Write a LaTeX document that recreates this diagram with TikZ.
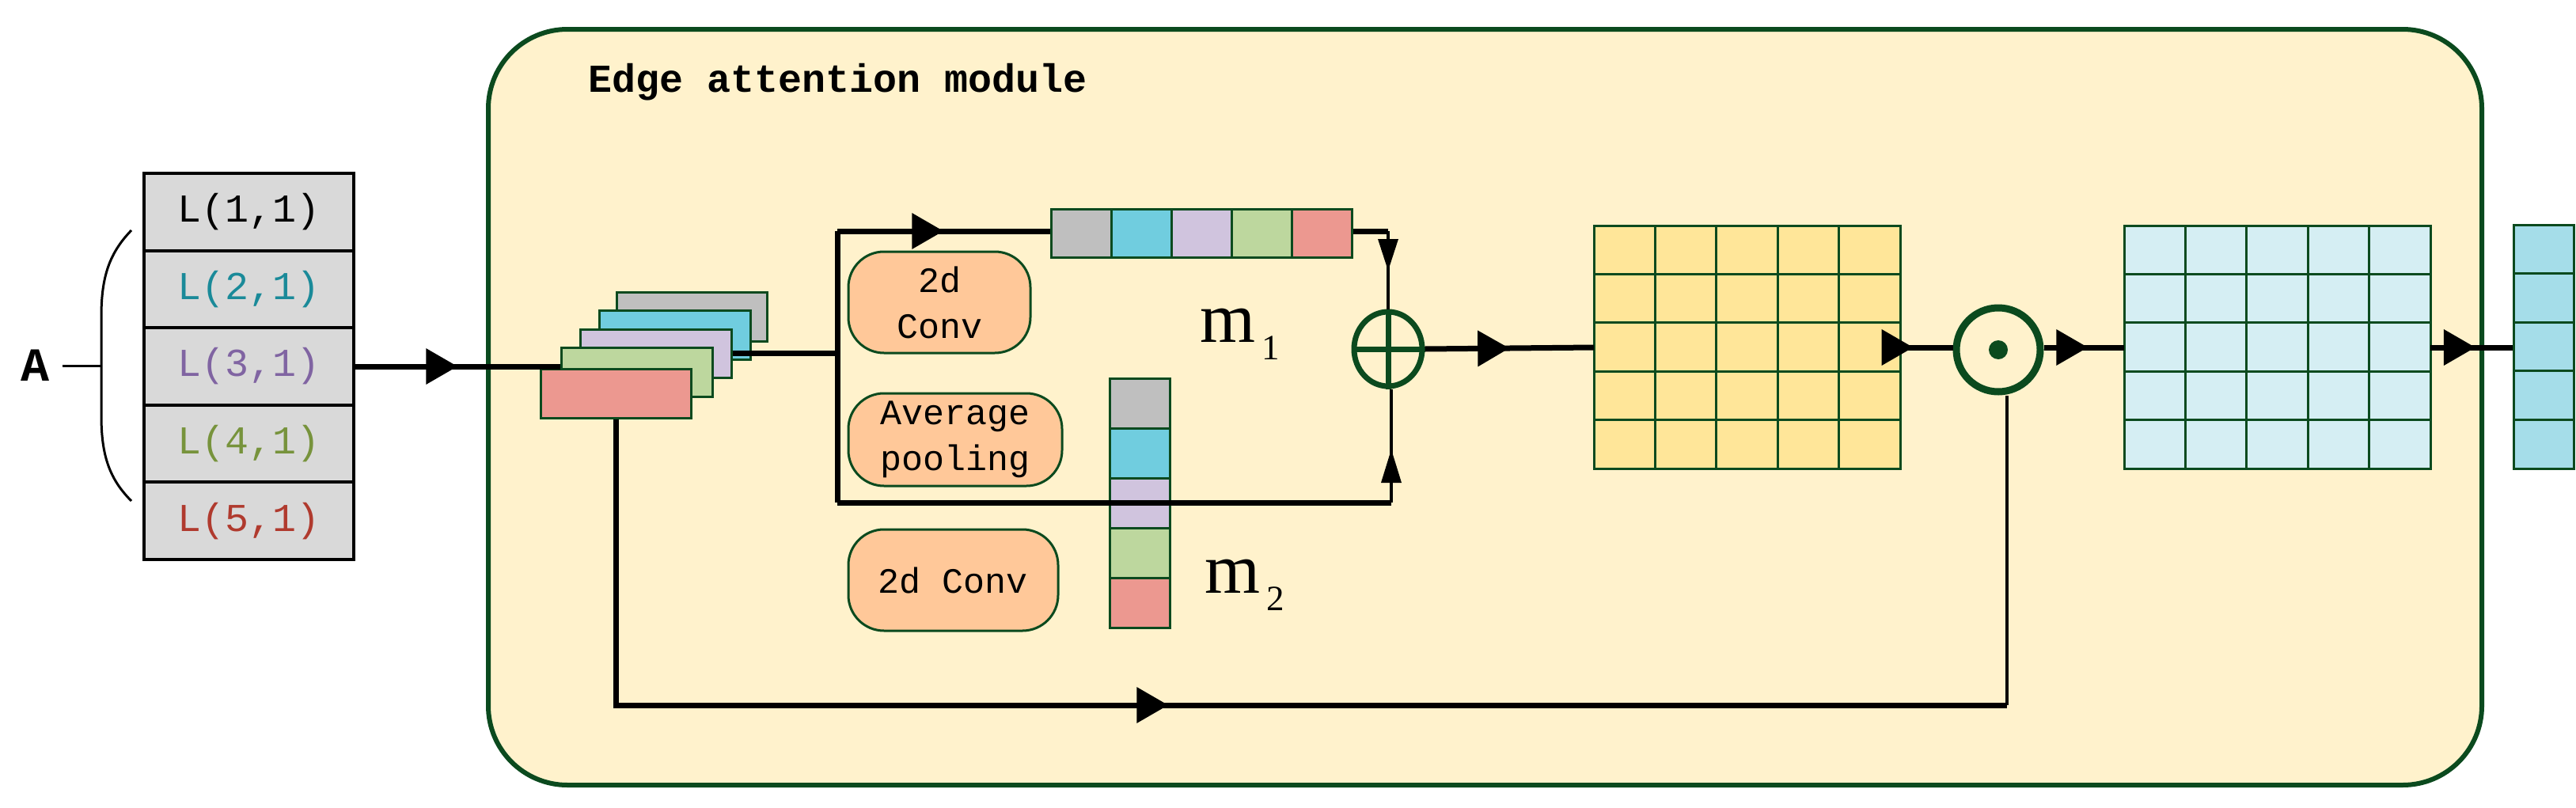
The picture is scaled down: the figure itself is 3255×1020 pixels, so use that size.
\documentclass[tikz,border=0pt]{standalone}
\usepackage{fontspec}
\setmainfont{Liberation Serif}
\newfontfamily\monof{Liberation Mono}
\usetikzlibrary{arrows.meta,decorations.markings,shapes.geometric}
\definecolor{dg}{HTML}{0B4A1E}
\definecolor{bgy}{HTML}{FFF2CC}
\definecolor{cgray}{HTML}{BFBFBF}
\definecolor{ccyan}{HTML}{70CDDF}
\definecolor{clil}{HTML}{D0C4DE}
\definecolor{cgrn}{HTML}{BDD79E}
\definecolor{cred}{HTML}{EC9890}
\definecolor{cora}{HTML}{FFC899}
\definecolor{yel}{HTML}{FFE699}
\definecolor{lblue}{HTML}{D5EEF3}
\definecolor{oblue}{HTML}{A5DDE9}
\definecolor{t2}{HTML}{1A8A99}
\definecolor{t3}{HTML}{8064A2}
\definecolor{t4}{HTML}{77933C}
\definecolor{t5}{HTML}{B03A2E}
\begin{document}
\begin{tikzpicture}[x=1pt,y=-1pt,
  lcell/.style={draw=black,line width=4,fill=gray!30,minimum width=265,minimum height=97.6,inner sep=0,font=\fontsize{50}{50}\monof},
  cell/.style={draw=dg,line width=3,inner sep=0},
  rbox/.style={draw=dg,line width=3,fill=cora,rounded corners=45,inner sep=0,align=center,font=\fontsize{45}{58}\monof},
  conn/.style={line width=7},
  thin/.style={line width=4},
  mk/.style={postaction={decorate},decoration={markings,mark=at position #1 with {\arrow{Triangle[length=40pt,width=44pt]}}}}
]
\useasboundingbox (0,0) rectangle (3255,1020);
% main module
\node[draw=dg,line width=6,fill=bgy,rounded corners=100,minimum width=2519,minimum height=955,inner sep=0] (mod) at (1876.5,514.5) {};
\node[anchor=west,font=\fontsize{50}{50}\monof\bfseries] (title) at (740,104) {Edge attention module};
% left column
\foreach \i/\c in {1/black,2/t2,3/t3,4/t4,5/t5}{
  \node[lcell,text=\c] (L\i) at (314.5,{219+97.6*(\i-0.5)}) {L(\i,1)};
}
\draw[line width=3] (166,291) .. controls (138,320) and (128,350) .. (128,400) -- (128,525) .. controls (128,575) and (138,605) .. (166,633);
\coordinate (brc) at (128,462);
\node[font=\fontsize{60}{60}\monof\bfseries] (A) at (45,462) {A};
\draw[line width=3] (A.east) ++(12,0) -- (brc);
% stack
\node[cell,fill=cgray,minimum width=190,minimum height=62] (s1) at (874,400) {};
\node[cell,fill=ccyan,minimum width=191,minimum height=62] (s2) at (852.5,423) {};
\node[cell,fill=clil,minimum width=191,minimum height=61] (s3) at (828.5,446.5) {};
\node[cell,fill=cgrn,minimum width=191,minimum height=62] (s4) at (804.5,470) {};
\node[cell,fill=cred,minimum width=190,minimum height=62] (s5) at (778,497) {};
\draw[conn,mk=0.5] (L3.east) -- (s4.west |- L3.east);
% branch
\coordinate (br) at (1058,446);
\coordinate (brt) at (1058,292);
\coordinate (brb) at (1058,635);
\draw[conn] (s3.east |- br) -- (br);
\draw[conn] (brt) -- (brb);
% m1 vector
\foreach \i/\c in {1/cgray,2/ccyan,3/clil,4/cgrn,5/cred}{
  \node[cell,fill=\c,minimum width=76,minimum height=61] (a\i) at ({1328+76*(\i-0.5)},294.5) {};
}
% m2 vector
\foreach \i/\c in {1/cgray,2/ccyan,3/clil,4/cgrn,5/cred}{
  \node[cell,fill=\c,minimum width=76,minimum height=63] (b\i) at (1440,{479+62.8*(\i-0.5)}) {};
}
\draw[conn,mk=0.5] (brt) -- (a1.west |- brt);
% rounded boxes
\node[rbox,minimum width=230,minimum height=128] (c1) at (1187,382) {2d\\Conv};
\node[rbox,minimum width=270,minimum height=117] (ap) at (1207,555.5) {Average\\pooling};
\node[rbox,minimum width=265,minimum height=128] (c2) at (1204.5,733) {2d Conv};
% labels
\node[anchor=base west,font=\fontsize{90}{90}\selectfont,inner sep=0] (m1) at (1516,432) {m};
\node[anchor=base west,font=\fontsize{45}{45}\selectfont,inner sep=0] (m1s) at (1594,454) {1};
\node[anchor=base west,font=\fontsize{90}{90}\selectfont,inner sep=0] (m2) at (1522,749) {m};
\node[anchor=base west,font=\fontsize{45}{45}\selectfont,inner sep=0] (m2s) at (1600,771) {2};
% oplus
\node[draw=dg,line width=7,ellipse,minimum width=86,minimum height=94,inner sep=0] (plus) at (1754,441) {};
\draw[dg,line width=7] (plus.north) -- (plus.south) (plus.west) -- (plus.east);
\coordinate (tr) at (1754,292);
\coordinate (bl) at (1758,635);
\draw[conn] (a5.east |- tr) -- (tr);
\draw[thin] (tr) -- (plus.north);
\fill (1754,342) -- (1741,302) -- (1767,302) -- cycle;
\draw[conn] (brb) -- (bl);
\draw[thin] (bl) -- (bl |- plus.south);
\fill (1758,568) -- (1745,610) -- (1771,610) -- cycle;
% yellow grid
\foreach \i in {0,...,4}{\foreach \j in {0,...,4}{
  \node[cell,fill=yel,minimum width=77.4,minimum height=61.4] (y\i\j) at ({2014+77.4*(\i+0.5)},{285+61.4*(\j+0.5)}) {};
}}
\coordinate (yw) at (2014,439);
\coordinate (ye) at (2401,439);
\draw[conn,mk=0.5] (plus.east) -- (yw);
% odot
\node[draw=dg,line width=9,circle,minimum size=106,inner sep=0] (dot) at (2525,442) {};
\fill[dg] (dot.center) circle[radius=12];
\draw[conn,mk=0.25] (ye) -- (dot.west |- ye);
% blue grid
\foreach \i in {0,...,4}{\foreach \j in {0,...,4}{
  \node[cell,fill=lblue,minimum width=77.4,minimum height=61.4] (z\i\j) at ({2684+77.4*(\i+0.5)},{285+61.4*(\j+0.5)}) {};
}}
\coordinate (zw) at (2684,439);
\coordinate (ze) at (3071,439);
\draw[conn,mk=0.55] (dot.east |- zw) -- (zw);
% output vector
\foreach \i in {1,...,5}{
  \node[cell,fill=oblue,minimum width=76,minimum height=61.6] (o\i) at (3214,{284+61.6*(\i-0.5)}) {};
}
\draw[conn,mk=0.55] (ze) -- (o3.west |- ze);
% skip connection
\coordinate (sk1) at (778,891);
\coordinate (sk2) at (2536,891);
\draw[conn,mk=0.5] (s5.south) -- (sk1) -- (sk2);
\draw[thin] (sk2) -- (sk2 |- dot.south);
\end{tikzpicture}
\end{document}
